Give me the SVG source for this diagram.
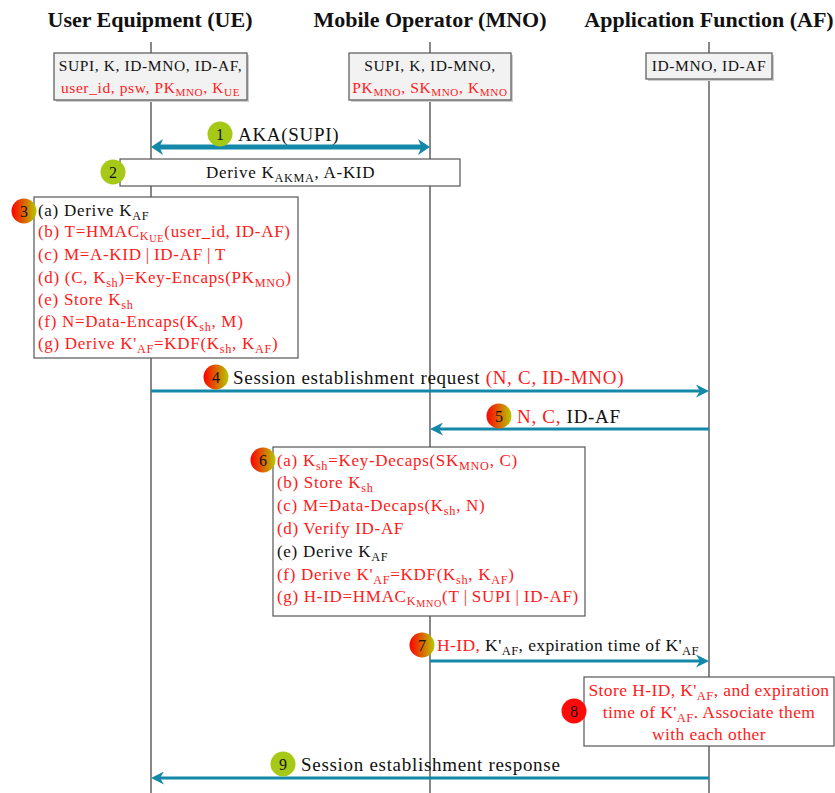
<svg xmlns="http://www.w3.org/2000/svg" width="835" height="793" viewBox="0 0 835 793">
<style>
text{font-family:"Liberation Serif","Times New Roman",serif;fill:#111}
.h{font-size:22px;font-weight:bold;text-anchor:middle}
.k{font-size:15.5px;letter-spacing:0.6px}
.m{font-size:19px;letter-spacing:0.7px}
.m7{font-size:17.5px;letter-spacing:0.4px}
.n{font-size:17.5px;letter-spacing:0.4px}
.b{font-size:17px;letter-spacing:0.7px}
.r{fill:#ff1a1a}
.sb{font-size:0.72em}
.ss{font-size:0.6em}
.c{font-size:16px;text-anchor:middle;fill:#111}
.life{stroke:#555;stroke-width:1.4;fill:none}
.box{fill:#fff;stroke:#555;stroke-width:1.2}
.gbox{fill:#f2f2f2;stroke:#555;stroke-width:1.2}
.shd{fill:#cfcfcf}
.arr{stroke:#1388a8;stroke-width:3;fill:none;marker-end:url(#ah)}
.arr2{stroke:#1388a8;stroke-width:5;fill:none;marker-end:url(#ahb);marker-start:url(#ahb)}
.green{fill:#a6c917}
.grad{fill:url(#rg)}
</style>
<defs>
<linearGradient id="rg" x1="0" y1="0" x2="1" y2="0">
<stop offset="0" stop-color="#ff0000"/>
<stop offset="1" stop-color="#b7c800"/>
</linearGradient>
<marker id="ah" viewBox="0 0 13 13" markerWidth="13" markerHeight="13" refX="7" refY="6.5" orient="auto" markerUnits="userSpaceOnUse">
<path d="M0,0 L13,6.5 L0,13 L4,6.5 Z" fill="#1388a8"/>
</marker>
<marker id="ahb" viewBox="0 0 12 16" markerWidth="12" markerHeight="16" refX="6" refY="8" orient="auto-start-reverse" markerUnits="userSpaceOnUse">
<path d="M0,0 L12,8 L0,16 L3.5,8 Z" fill="#1388a8"/>
</marker>
</defs>
<rect width="835" height="793" fill="#fff"/>

<g id="lifelines">
<line class="life" x1="151" y1="42" x2="151" y2="793"/>
<line class="life" x1="430" y1="42" x2="430" y2="793"/>
<line class="life" x1="709" y1="42" x2="709" y2="793"/>
</g>

<g id="ue">
<text class="h" x="150" y="27">User Equipment (UE)</text>
<rect class="shd" x="56" y="55" width="193" height="47"/>
<rect class="gbox" x="54" y="53" width="193" height="47"/>
<text class="k" x="150.5" y="71" text-anchor="middle">SUPI, K, ID-MNO, ID-AF,</text>
<text class="k r" x="150.5" y="93" text-anchor="middle">user_id, psw, PK<tspan class="sb" dy="3">MNO</tspan><tspan dy="-3">, K</tspan><tspan class="sb" dy="3">UE</tspan></text>
</g>

<g id="mno">
<text class="h" x="430" y="27">Mobile Operator (MNO)</text>
<rect class="shd" x="351" y="55" width="162" height="47"/>
<rect class="gbox" x="349" y="53" width="162" height="47"/>
<text class="k" x="430" y="71" text-anchor="middle">SUPI, K, ID-MNO,</text>
<text class="k r" x="430" y="93" text-anchor="middle">PK<tspan class="sb" dy="3">MNO</tspan><tspan dy="-3">, SK</tspan><tspan class="sb" dy="3">MNO</tspan><tspan dy="-3">, K</tspan><tspan class="sb" dy="3">MNO</tspan></text>
</g>

<g id="af">
<text class="h" x="709" y="27">Application Function (AF)</text>
<rect class="shd" x="648" y="55" width="126" height="26"/>
<rect class="gbox" x="646" y="53" width="126" height="26"/>
<text class="k" x="709" y="71" text-anchor="middle">ID-MNO, ID-AF</text>
</g>

<g id="connectors">
<line class="arr2" x1="157" y1="147" x2="424" y2="147"/>
<line class="arr" x1="151" y1="391" x2="703" y2="391"/>
<line class="arr" x1="709" y1="429" x2="436" y2="429"/>
<line class="arr" x1="430" y1="661" x2="703" y2="661"/>
<line class="arr" x1="709" y1="778" x2="157" y2="778"/>
</g>

<g id="step1">
<circle class="green" cx="220" cy="134" r="12.5"/>
<text class="c" x="220" y="139.5">1</text>
<text class="m" x="238" y="141">AKA(SUPI)</text>
</g>

<g id="step2">
<rect class="box" x="120" y="159" width="340" height="27"/>
<circle class="green" cx="113" cy="172" r="12.5"/>
<text class="c" x="113" y="177.5">2</text>
<text class="b" x="206" y="178">Derive K<tspan class="sb" dy="4">AKMA</tspan><tspan dy="-4">, A-KID</tspan></text>
</g>

<g id="step3">
<rect class="box" x="34" y="197" width="264" height="161"/>
<circle class="grad" cx="24" cy="211" r="12.5"/>
<text class="c" x="24" y="216.5">3</text>
<text class="b" x="38" y="216">(a) Derive K<tspan class="sb" dy="4">AF</tspan></text>
<text class="b r" x="38" y="237">(b) T=HMAC<tspan class="sb" dy="3">K</tspan><tspan class="ss" dy="2">UE</tspan><tspan dy="-5">(user_id, ID-AF)</tspan></text>
<text class="b r" x="38" y="260">(c) M=A-KID&#8201;|&#8201;ID-AF&#8201;|&#8201;T</text>
<text class="b r" x="38" y="283">(d) (C, K<tspan class="sb" dy="4">sh</tspan><tspan dy="-4">)=Key-Encaps(PK</tspan><tspan class="sb" dy="4">MNO</tspan><tspan dy="-4">)</tspan></text>
<text class="b r" x="38" y="305">(e) Store K<tspan class="sb" dy="4">sh</tspan></text>
<text class="b r" x="38" y="327">(f) N=Data-Encaps(K<tspan class="sb" dy="4">sh</tspan><tspan dy="-4">, M)</tspan></text>
<text class="b r" x="38" y="349">(g) Derive K'<tspan class="sb" dy="4">AF</tspan><tspan dy="-4">=KDF(K</tspan><tspan class="sb" dy="4">sh</tspan><tspan dy="-4">, K</tspan><tspan class="sb" dy="4">AF</tspan><tspan dy="-4">)</tspan></text>
</g>

<g id="step4">
<circle class="grad" cx="216" cy="377" r="12.5"/>
<text class="c" x="216" y="382.5">4</text>
<text class="m" x="233" y="384">Session establishment request <tspan class="r">(N, C, ID-MNO)</tspan></text>
</g>

<g id="step5">
<circle class="grad" cx="499" cy="416" r="12.5"/>
<text class="c" x="499" y="421.5">5</text>
<text class="m" x="517" y="423"><tspan class="r">N, C, </tspan>ID-AF</text>
</g>

<g id="step6">
<rect class="box" x="273" y="447" width="312" height="169"/>
<circle class="grad" cx="263" cy="460" r="12.5"/>
<text class="c" x="263" y="465.5">6</text>
<text class="b r" x="277" y="466">(a) K<tspan class="sb" dy="4">sh</tspan><tspan dy="-4">=Key-Decaps(SK</tspan><tspan class="sb" dy="4">MNO</tspan><tspan dy="-4">, C)</tspan></text>
<text class="b r" x="277" y="488">(b) Store K<tspan class="sb" dy="4">sh</tspan></text>
<text class="b r" x="277" y="511">(c) M=Data-Decaps(K<tspan class="sb" dy="4">sh</tspan><tspan dy="-4">, N)</tspan></text>
<text class="b r" x="277" y="534">(d) Verify ID-AF</text>
<text class="b" x="277" y="557">(e) Derive K<tspan class="sb" dy="4">AF</tspan></text>
<text class="b r" x="277" y="580">(f) Derive K'<tspan class="sb" dy="4">AF</tspan><tspan dy="-4">=KDF(K</tspan><tspan class="sb" dy="4">sh</tspan><tspan dy="-4">, K</tspan><tspan class="sb" dy="4">AF</tspan><tspan dy="-4">)</tspan></text>
<text class="b r" x="277" y="602">(g) H-ID=HMAC<tspan class="sb" dy="3">K</tspan><tspan class="ss" dy="2">MNO</tspan><tspan dy="-5">(T&#8201;|&#8201;SUPI&#8201;|&#8201;ID-AF)</tspan></text>
</g>

<g id="step7">
<circle class="grad" cx="422" cy="645" r="12.5"/>
<text class="c" x="422" y="650.5">7</text>
<text class="m7" x="437" y="651"><tspan class="r">H-ID, </tspan>K'<tspan class="sb" dy="4">AF</tspan><tspan dy="-4">, expiration time of K'</tspan><tspan class="sb" dy="4">AF</tspan></text>
</g>

<g id="step8">
<rect class="box" x="584" y="677" width="250" height="69"/>
<circle cx="574" cy="711" r="12.5" fill="#ff0a0a"/>
<text class="c" x="574" y="716.5">8</text>
<text class="n r" x="709" y="696" text-anchor="middle">Store H-ID, K'<tspan class="sb" dy="4">AF</tspan><tspan dy="-4">, and expiration</tspan></text>
<text class="n r" x="709" y="718" text-anchor="middle">time of K'<tspan class="sb" dy="4">AF</tspan><tspan dy="-4">. Associate them</tspan></text>
<text class="n r" x="709" y="740" text-anchor="middle">with each other</text>
</g>

<g id="step9">
<circle class="green" cx="283" cy="764" r="12.5"/>
<text class="c" x="283" y="769.5">9</text>
<text class="m" x="301" y="771">Session establishment response</text>
</g>
</svg>
